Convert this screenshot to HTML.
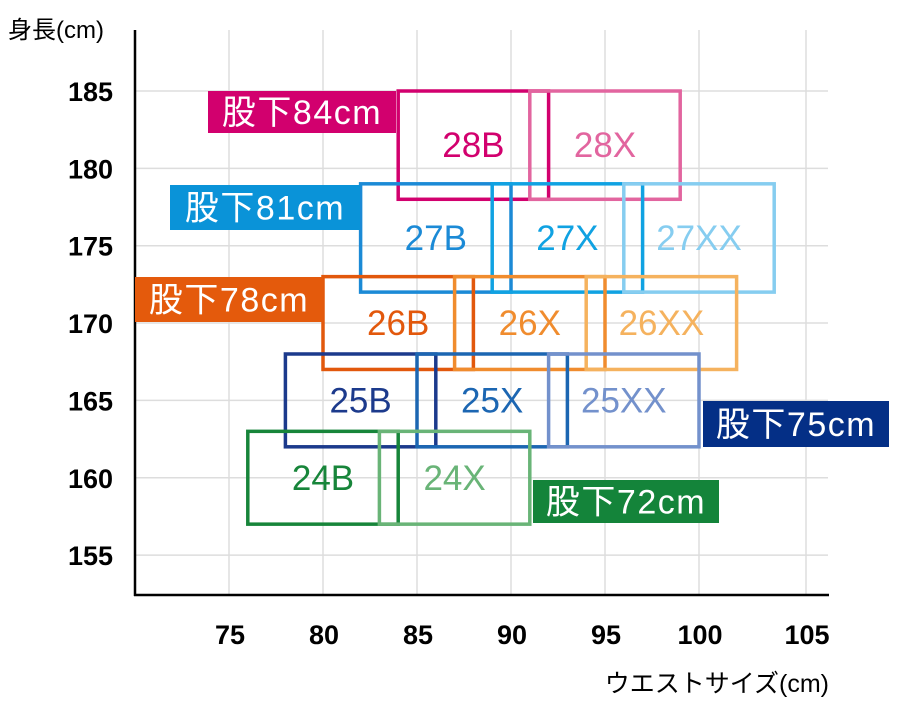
<!DOCTYPE html>
<html><head><meta charset="utf-8"><style>
body{margin:0;background:#fff;}
svg text{font-family:"Liberation Sans","Noto Sans CJK JP",sans-serif;}
</style></head><body>
<svg id="c" width="900" height="701" xmlns="http://www.w3.org/2000/svg"></svg>
<script>
const xTicks=[75,80,85,90,95,100,105];
const yTicks=[155,160,165,170,175,180,185];
const boxNames=["28B","28X","27B","27X","27XX","26B","26X","26XX","25B","25X","25XX","24B","24X"];
const boxWaistMin=[84,91,82,89,96,80,87,94,78,85,92,76,83];
const boxWaistMax=[92,99,90,97,104,88,95,102,86,93,100,84,91];
const boxHeightMin=[178,178,172,172,172,167,167,167,162,162,162,157,157];
const boxHeightMax=[185,185,179,179,179,173,173,173,168,168,168,163,163];
const boxColors=["#d2006e","#e2659f","#1b8ad6","#10a2e2","#86cdf0","#e2580c","#f08c2e","#f5b25e","#1c3a8c","#1c66b2","#7391cc","#17853a","#69b477"];
const inseamLabels=["股下84cm","股下81cm","股下78cm","股下75cm","股下72cm"];
const inseamColors=["#d2006e","#0a93d8","#e45a0c","#042f86","#14843a"];
const inseamX=[208,170,135,703,533];
const inseamY=[91,185,277,401,480];
const inseamW=[188,190,188,186,186];
const inseamH=[42,45,45,46,43];

const NS="http://www.w3.org/2000/svg";
const svg=document.getElementById('c');
function X(v){return v===105?806:229+(v-75)*18.8;}
function Y(v){return 91+(185-v)*15.47;}
function mk(t,a,p){const e=document.createElementNS(NS,t);for(const k in a)e.setAttribute(k,a[k]);(p||svg).appendChild(e);return e;}

xTicks.forEach(v=>{
  const l=mk('line',{x1:X(v),x2:X(v),y1:30,y2:595,stroke:'#ddd','stroke-width':1.5});
  
  
  const t=mk('text',{x:X(v)+1,y:644,'text-anchor':'middle','font-size':27,'font-weight':'bold',fill:'#000'});
  t.textContent=v;
  
  
});
yTicks.forEach(v=>{
  const l=mk('line',{x1:135,x2:828,y1:Y(v),y2:Y(v),stroke:'#ddd','stroke-width':1.5});
  
  
  const t=mk('text',{x:113,y:Y(v)+10,'text-anchor':'end','font-size':27,'font-weight':'bold',fill:'#000'});
  t.textContent=v;
  
  
});
let a=mk('line',{x1:135,x2:135,y1:30,y2:596,stroke:'#000','stroke-width':2.5});


a=mk('line',{x1:134,x2:829,y1:595,y2:595,stroke:'#000','stroke-width':2.5});


let t=mk('text',{x:8,y:38,'font-size':24,fill:'#000'});t.textContent='身長(cm)';


t=mk('text',{x:829,y:692,'text-anchor':'end','font-size':25,fill:'#000'});t.textContent='ウエストサイズ(cm)';



boxNames.forEach((n,i)=>{
  const x1=X(boxWaistMin[i]),x2=X(boxWaistMax[i]),y1=Y(boxHeightMax[i]),y2=Y(boxHeightMin[i]);
  const r=mk('rect',{x:x1,y:y1,width:x2-x1,height:y2-y1,fill:'none',stroke:boxColors[i],'stroke-width':3.5});
  
  
});
boxNames.forEach((n,i)=>{
  const x1=X(boxWaistMin[i]),x2=X(boxWaistMax[i]),y1=Y(boxHeightMax[i]),y2=Y(boxHeightMin[i]);
  const tx=mk('text',{x:(x1+x2)/2,y:(y1+y2)/2+12,'text-anchor':'middle','font-size':35,fill:boxColors[i]});
  tx.textContent=n;
  
  
});
inseamLabels.forEach((n,i)=>{
  const g=mk('g',{});
  
  
  mk('rect',{x:inseamX[i],y:inseamY[i],width:inseamW[i],height:inseamH[i],fill:inseamColors[i]},g);
  const tx=mk('text',{x:inseamX[i]+inseamW[i]/2,y:inseamY[i]+inseamH[i]/2+12,'text-anchor':'middle','font-size':34,fill:'#fff','letter-spacing':1.5},g);
  tx.textContent=n;
});
</script>
</body></html>
